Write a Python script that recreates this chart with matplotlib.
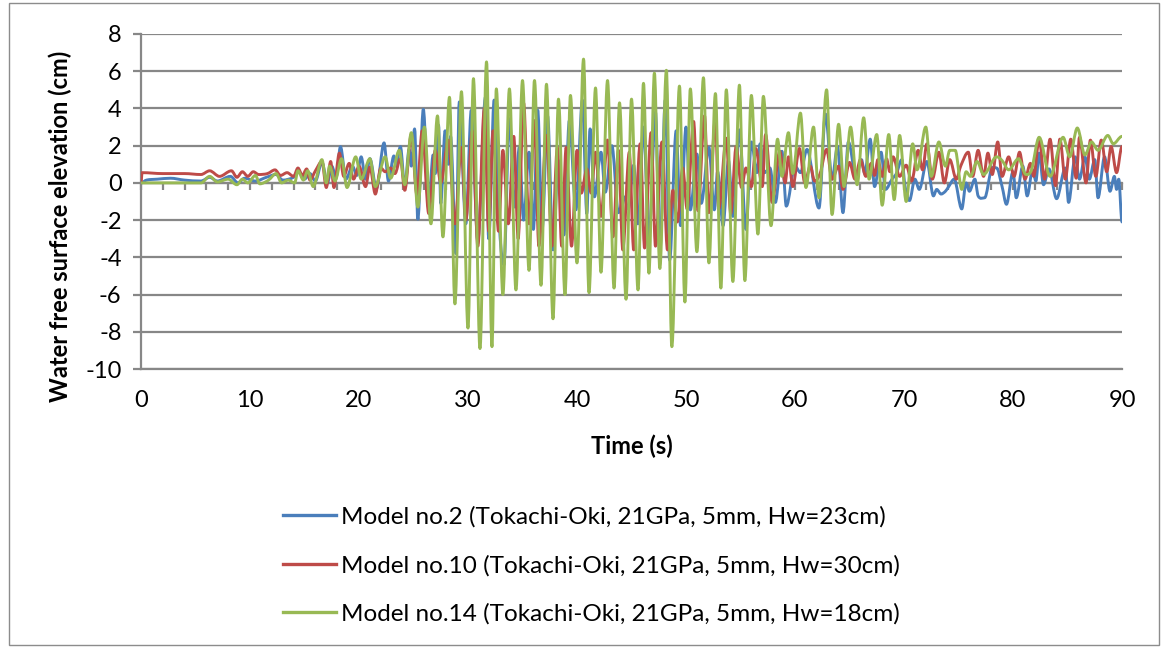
import numpy as np
import matplotlib
matplotlib.use("Agg")
import matplotlib.pyplot as plt
from matplotlib.path import Path
from matplotlib.patches import PathPatch, Rectangle
from matplotlib.lines import Line2D

plt.rcParams["font.family"] = ["Lato", "DejaVu Sans"]

# Free-surface elevation records (time in s, elevation in cm), sampled at turning points
model2_t = [0, 0.5, 1.5, 2.7, 4.0, 5.5, 6.3, 7.0, 8.2, 8.9, 9.5, 10.5, 11.5, 12.4, 13.0, 14.0,
            14.5, 15.0, 15.5, 16.0, 16.6, 17.1, 17.5, 17.9, 18.3, 18.8, 19.4, 19.8, 20.2, 20.6,
            21.0, 21.6, 22.3, 22.7, 23.2, 23.4, 23.8, 24.2, 24.6, 24.8, 25.1, 25.4, 25.9, 26.4,
            26.8, 27.0, 27.3, 27.5, 27.9, 28.2, 28.4, 28.9, 29.2, 29.8, 30.3, 30.9, 31.6, 31.9,
            32.4, 32.9, 33.3, 33.8, 34.3, 34.7, 35.1, 35.6, 36.0, 36.4, 36.8, 37.3, 37.8, 38.3,
            38.8, 39.3, 39.9, 40.5, 40.9, 41.2, 41.6, 42.2, 42.6, 43.2, 43.8, 44.3, 44.7, 45.2,
            45.6, 46.1, 46.6, 47.2, 47.6, 48.1, 48.5, 49.1, 49.5, 50.0, 50.4, 51.0, 51.4, 52.1,
            52.6, 52.9, 53.4, 53.9, 54.3, 54.9, 55.5, 56.0, 56.5, 56.8, 57.2, 57.7, 58.2, 58.8,
            59.2, 60.0, 60.5, 61.1, 62.2, 62.8, 63.4, 63.9, 64.4, 64.9, 65.6, 66.1, 66.4, 66.9,
            67.3, 67.9, 68.3, 68.9, 69.3, 69.8, 70.1, 70.5, 71.0, 71.4, 72.1, 72.7, 73.0, 73.4,
            73.8, 74.1, 74.6, 75.3, 75.7, 76.0, 76.5, 76.8, 77.4, 78.0, 78.5, 79.0, 79.4, 80.0,
            80.3, 80.9, 81.3, 81.8, 82.1, 82.4, 82.8, 83.3, 84.0, 84.8, 85.1, 85.7, 86.1, 86.6,
            87.0, 87.5, 87.8, 88.4, 88.9, 89.3, 89.5, 89.7, 90.0]
model2_h = [0, 0.15, 0.2, 0.25, 0.15, 0.1, 0.3, 0.1, 0.35, 0.0, 0.25, 0.1, 0.3, 0.45, 0.15, 0.3,
            0.6, 0.2, 0.5, 0.1, 1.1, 0.0, 0.9, 0.3, 1.95, 0.2, 0.9, 0.4, 1.4, 0.2,
            1.3, -0.3, 2.15, 0.1, 1.45, 0.9, 1.95, -0.2, 1.8, 0.9, 2.9, -1.95, 3.95, -1.1,
            1.5, 0.5, 3.1, -1.1, 2.8, 1.0, 2.5, -3.8, 4.35, -2.2, 3.9, -3.1, 4.6, -3.0,
            4.45, -2.5, -4.4, 3.45, -1.3, 1.9, -2.0, 1.65, -2.5, 3.9, -2.5, 3.6, -3.6, 1.2,
            -2.8, 3.35, -1.45, 4.45, -1.65, 2.9, -0.75, 1.65, -0.5, 2.0, -1.6, -0.75, -1.4, 0.95,
            -2.2, 3.0, -2.9, 3.8, -3.8, 4.45, -4.15, 2.8, -2.3, 3.0, -1.45, 1.55, -1.1, 1.9,
            -1.45, 0.6, -2.3, 1.2, -1.8, 2.85, -2.5, 2.2, 0.55, 2.1, 0.55, 0.8, -1.05, 1.7,
            -1.25, 0.9, 0.55, 1.8, -1.35, 3.7, 0.2, 1.95, -1.6, 2.2, 0.35, 1.25, 0.5, 2.35,
            -0.2, 1.65, -0.35, 0.2, 0.5, 1.25, -0.2, -0.95, 0.2, -0.35, 1.15, -0.7, -0.35, -0.6,
            -0.45, -0.2, 0.2, -1.4, 0.0, -0.45, 0.2, -0.7, -0.8, 0.7, 0.8, -0.2, -1.15, 0.6,
            -0.8, 0.9, -0.7, 0.7, 0.1, 1.6, -0.1, 0.75, -0.85, 0.8, -1.05, 1.4, 0.2, 1.4,
            0.2, 1.25, -0.8, 1.4, -0.45, 0.35, -0.35, 0.2, -2.1]

model10_t = [0, 0.1, 2.0, 4.0, 5.5, 6.3, 7.2, 8.3, 8.8, 9.3, 9.8, 10.3, 10.8, 11.6, 12.3, 12.8,
             13.4, 14.0, 14.4, 14.8, 15.2, 15.5, 16.0, 16.6, 17.0, 17.4, 17.7, 18.2, 18.6, 19.1,
             19.5, 20.0, 20.6, 21.0, 21.5, 22.0, 22.4, 22.9, 23.3, 23.8, 24.2, 24.8, 25.3, 25.8,
             26.4, 27.0, 27.5, 28.2, 28.8, 29.4, 29.8, 30.4, 30.9, 31.5, 31.9, 32.3, 32.8, 33.2,
             33.7, 34.2, 34.6, 35.1, 35.6, 36.1, 36.5, 37.2, 37.7, 38.2, 38.6, 39.0, 39.5, 40.0,
             40.4, 40.9, 41.3, 41.7, 42.2, 42.8, 43.3, 43.8, 44.2, 44.8, 45.2, 45.8, 46.2, 46.8,
             47.2, 47.8, 48.3, 48.8, 49.2, 49.7, 50.1, 50.7, 51.1, 51.7, 52.1, 52.7, 53.0, 53.7,
             54.1, 54.6, 55.1, 55.5, 56.0, 56.4, 57.0, 57.3, 57.9, 58.6, 59.1, 59.4, 59.8, 60.4,
             60.9, 61.4, 61.8, 62.3, 62.9, 63.4, 64.0, 64.4, 65.0, 65.5, 66.0, 66.5, 67.0, 67.3,
             67.6, 68.0, 68.4, 68.7, 69.0, 69.6, 70.2, 70.7, 71.3, 71.7, 72.1, 72.6, 73.2, 73.7,
             74.2, 74.8, 75.2, 75.9, 76.3, 76.8, 77.3, 77.7, 78.1, 78.6, 79.0, 79.6, 80.1, 80.6,
             81.1, 81.6, 81.9, 82.4, 82.9, 83.4, 83.9, 84.3, 84.8, 85.3, 85.8, 86.1, 86.7, 87.1,
             87.6, 88.1, 88.6, 89.0, 89.5, 90.0]
model10_h = [0, 0.55, 0.5, 0.5, 0.45, 0.65, 0.35, 0.65, 0.3, 0.6, 0.35, 0.6, 0.45, 0.5, 0.7, 0.4,
             0.55, 0.35, 0.8, 0.4, 0.75, 0.15, 0.65, 1.15, -0.25, 1.15, -0.25, 1.6, 0.35, 1.05,
             0.2, 0.9, -0.2, 0.85, -0.6, 0.8, 0.6, 0.8, 0.5, 1.3, -0.4, 2.6, -0.6, 2.8,
             -1.65, 1.75, 0.0, 2.3, -2.2, 1.9, -2.0, 2.8, -3.4, 4.0, -2.6, 2.8, -2.6, 1.75,
             -2.2, 2.5, -3.0, 4.3, -2.2, 3.35, -3.4, 2.55, -3.4, 1.9, -3.4, 1.9, -3.4, 1.75,
             -0.55, 0.75, -0.55, 1.65, -1.8, 2.3, -2.9, 1.75, -3.6, 1.65, -3.6, 2.1, -3.5, 2.7,
             -3.4, 2.2, -3.6, -0.4, -2.1, 0.8, -1.4, 3.3, -1.5, 3.6, -1.6, 3.5, -1.4, 2.4,
             -1.65, 1.95, -0.25, 0.8, -0.2, 1.85, -0.2, 2.6, -1.05, 1.7, 0.0, 1.4, -0.2, 1.85,
             0.0, 0.9, 0.1, 0.5, 1.8, 0.2, 0.9, -0.35, 1.1, 0.2, 1.25, 0.35, 1.05, 0.4,
             1.25, 0.35, 1.3, 0.6, 1.4, 0.35, 0.95, 0.1, 1.75, 0.7, 2.1, 0.2, 1.65, 0.0,
             1.25, 0.2, 0.9, 1.65, 0.35, 1.75, 0.35, 1.6, 0.45, 2.2, 0.35, 1.4, 0.35, 1.65,
             0.2, 1.05, 0.35, 2.35, 0.2, 2.35, -0.15, 2.35, 0.2, 2.35, 0.25, 2.45, 0.0, 2.3,
             0.35, 2.3, 0.6, 1.95, 0.55, 1.95]

model14_t = [0, 5.5, 6.3, 7.0, 8.0, 8.8, 9.3, 9.8, 10.5, 10.9, 11.7, 12.4, 12.9, 13.5, 14.1, 14.4,
             14.9, 15.3, 15.8, 16.6, 17.0, 17.3, 17.8, 18.4, 18.9, 19.7, 20.2, 21.0, 21.5, 22.4,
             22.9, 23.7, 24.2, 24.8, 25.4, 26.0, 26.6, 27.2, 27.7, 28.3, 28.8, 29.4, 30.0, 30.5,
             31.1, 31.7, 32.2, 32.6, 33.2, 33.8, 34.4, 35.0, 35.6, 36.1, 36.7, 37.2, 37.8, 38.3,
             38.9, 39.4, 40.0, 40.6, 41.1, 41.7, 42.2, 42.8, 43.4, 43.9, 44.5, 45.0, 45.6, 46.1,
             46.6, 47.1, 47.6, 48.2, 48.7, 49.4, 49.9, 50.4, 51.0, 51.6, 52.1, 52.7, 53.2, 53.7,
             54.3, 54.9, 55.4, 56.0, 56.6, 57.1, 57.8, 58.4, 58.8, 59.4, 59.8, 60.5, 61.0, 61.7,
             62.2, 62.9, 63.4, 64.0, 64.5, 65.1, 65.7, 66.3, 66.8, 67.5, 68.0, 68.6, 69.1, 69.6,
             70.2, 70.8, 71.2, 72.0, 72.5, 73.2, 73.8, 74.2, 74.7, 75.3, 75.7, 76.1, 76.7, 77.3,
             78.5, 79.0, 79.6, 80.5, 81.2, 81.7, 82.4, 83.4, 84.6, 85.2, 85.9, 86.6, 87.2, 87.8,
             88.7, 89.2, 90.0]
model14_h = [0, 0.0, 0.35, 0.05, 0.2, -0.1, 0.2, 0.0, 0.4, -0.05, 0.15, 0.5, 0.0, 0.15, 0.0, 0.65,
             0.15, 0.65, -0.2, 1.25, 0.0, 0.9, 0.1, 1.3, -0.25, 1.4, 0.2, 1.3, -0.2, 1.4,
             0.25, 1.75, -0.1, 2.7, -1.3, 3.0, -2.2, 3.6, -2.9, 4.6, -6.5, 4.9, -7.8, 5.6,
             -8.9, 6.5, -8.8, 5.05, -6.0, 5.05, -5.75, 5.5, -4.7, 5.5, -5.5, 5.3, -7.3, 4.5,
             -6.0, 4.7, -4.3, 6.65, -5.9, 5.1, -4.8, 5.5, -5.65, 4.3, -6.25, 4.5, -5.75, 5.35,
             -4.85, 5.9, -4.6, 6.05, -8.8, 5.2, -6.4, 5.05, -3.7, 5.65, -4.3, 4.8, -5.65, 5.0,
             -5.3, 5.25, -5.25, 4.7, -2.75, 4.65, -2.3, 2.35, 0.35, 2.7, 0.5, 3.75, -0.25, 3.0,
             -0.8, 5.0, -1.7, 3.15, -0.2, 3.0, -0.1, 3.5, 0.2, 2.6, -1.2, 2.6, -0.9, 2.55,
             -1.0, 2.1, 0.7, 3.0, 0.35, 2.2, 0.9, 1.75, 1.75, -0.35, 0.6, 0.35, 1.15, 0.45,
             1.4, 1.2, 0.7, 1.3, 0.45, 0.7, 2.45, 0.35, 2.45, 1.4, 2.95, 1.5, 2.2, 1.75,
             2.55, 2.1, 2.5]

series_labels = ["Model no.2 (Tokachi-Oki, 21GPa, 5mm, Hw=23cm)",
                 "Model no.10 (Tokachi-Oki, 21GPa, 5mm, Hw=30cm)",
                 "Model no.14 (Tokachi-Oki, 21GPa, 5mm, Hw=18cm)"]
series_colors = ["#4A7EBB", "#BE4B48", "#98B954"]

x_ticks = list(range(0, 91, 10))
y_ticks = list(range(-10, 9, 2))

GRID = "#878787"
LW = 2.1
FS = 17


def smooth_path(t, h):
    """Cubic Hermite curve through the samples: flat at turning points."""
    t = np.asarray(t, float)
    h = np.asarray(h, float)
    n = len(t)
    m = np.zeros(n)
    for i in range(1, n - 1):
        a, b = h[i] - h[i - 1], h[i + 1] - h[i]
        if a * b > 0:
            m[i] = (h[i + 1] - h[i - 1]) / (t[i + 1] - t[i - 1])
    verts = [(t[0], h[0])]
    codes = [Path.MOVETO]
    for i in range(1, n):
        dt = t[i] - t[i - 1]
        verts += [(t[i - 1] + dt / 3, h[i - 1] + m[i - 1] * dt / 3),
                  (t[i] - dt / 3, h[i] - m[i] * dt / 3),
                  (t[i], h[i])]
        codes += [Path.CURVE4] * 3
    return Path(verts, codes)


fig = plt.figure(figsize=(11.62, 6.48), dpi=100)
ax = fig.add_axes([141 / 1162, 1 - 369 / 648, (1122 - 141) / 1162, (369 - 34) / 648])
ax.set_xlim(0, 90)
ax.set_ylim(-10, 8)
ax.set_xticks(x_ticks)
ax.set_yticks(y_ticks)
ax.set_xticklabels([str(v) for v in x_ticks])
ax.set_yticklabels([str(v) for v in y_ticks])

ax.yaxis.grid(True, color=GRID, lw=1.6)
ax.set_axisbelow(True)
for s in ("top", "right"):
    ax.spines[s].set_visible(False)
for s in ("left", "bottom"):
    ax.spines[s].set_color(GRID)
    ax.spines[s].set_linewidth(1.6)
ax.tick_params(axis="y", length=6, width=1.6, color=GRID, pad=8, labelsize=FS)
ax.tick_params(axis="x", length=0, pad=15, labelsize=FS)

# horizontal axis line at zero elevation with small tick marks
zero_axis = ax.secondary_xaxis(10 / 18)
zero_axis.set_alignment("bottom")
zero_axis.set_xticks(np.arange(0, 91, 2))
zero_axis.tick_params(direction="out", length=5, width=1.6, color=GRID,
                      labelbottom=False, labeltop=False)
zero_axis.spines["bottom"].set_color(GRID)
zero_axis.spines["bottom"].set_linewidth(1.6)

for t, h, c in zip([model2_t, model10_t, model14_t],
                   [model2_h, model10_h, model14_h], series_colors):
    ax.add_patch(PathPatch(smooth_path(t, h), fill=False, edgecolor=c, lw=LW,
                           capstyle="round", joinstyle="round", zorder=3))

ax.set_xlabel("Time (s)", fontsize=FS, fontweight="bold", labelpad=17)
fig.text(60 / 1162, 1 - 226 / 648, "Water free surface elevation (cm)", rotation=90,
         ha="center", va="center", fontsize=FS, fontweight="bold")

handles = [Line2D([], [], color=c, lw=2.4) for c in series_colors]
fig.legend(handles, series_labels, loc="upper left", bbox_to_anchor=(261 / 1162, 1 - 484 / 648),
           frameon=False, fontsize=17.5, handlelength=2.2, handletextpad=0.2, labelspacing=1.12)

fig.add_artist(Rectangle((9 / 1162, 3 / 648), (1159 - 9) / 1162, (645 - 3) / 648,
                         transform=fig.transFigure, fill=False, edgecolor="#8C8C8C", lw=1))

fig.savefig("out.png", dpi=100)
